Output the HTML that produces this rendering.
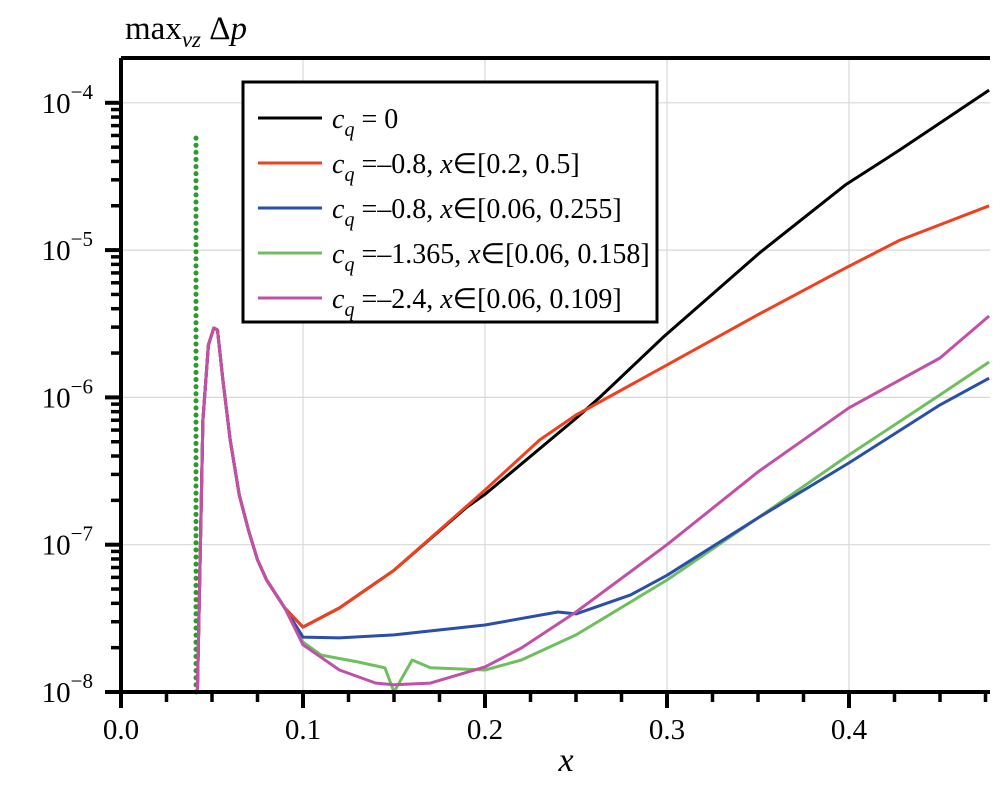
<!DOCTYPE html>
<html><head><meta charset="utf-8"><style>
body{margin:0;background:#fff;}
svg{display:block;font-family:"Liberation Serif",serif;}
</style></head><body>
<svg id="chart" width="1008" height="787" viewBox="0 0 1008 787" xmlns="http://www.w3.org/2000/svg">
<g id="grid"></g>
<g id="series"></g>
<g id="axes"></g>
<text x="125" y="39" font-size="33">max<tspan font-style="italic" font-size="23" dy="8">vz</tspan><tspan dy="-8"> Δ</tspan><tspan font-style="italic">p</tspan></text>
<text x="566" y="771" font-size="34" font-style="italic" text-anchor="middle">x</text>
<g id="legend">
<rect x="243" y="82" width="414" height="240" fill="#fff" stroke="#000" stroke-width="3"/>
</g>
</svg>
<script>
const X0=121,X1=303,Y8=692,DEC=147.3;
function sx(x){return X0+(x-0)*(X1-X0)/0.1;}
function sy(v){return Y8-(Math.log10(v)+8)*DEC;}
const xTicks=[0.0,0.1,0.2,0.3,0.4];
const xTickLabels=["0.0","0.1","0.2","0.3","0.4"];
const yTicks=[1e-8,1e-7,1e-6,1e-5,1e-4];
const yTickExps=["−8","−7","−6","−5","−4"];
const xCommon=[0.042,0.043,0.045,0.048,0.051,0.053,0.056,0.06,0.065,0.07,0.075,0.08,0.09];
const yCommon=[1e-8,4.2e-8,7.0e-7,2.27e-6,2.96e-6,2.87e-6,1.31e-6,5.14e-7,2.17e-7,1.26e-7,7.9e-8,5.76e-8,3.72e-8];
const xBlack=[0.1,0.12,0.15,0.19,0.2,0.25,0.263,0.298,0.351,0.398,0.428,0.477];
const yBlack=[2.76e-8,3.72e-8,6.7e-8,1.8e-7,2.2e-7,7.2e-7,1.0e-6,2.57e-6,9.6e-6,2.77e-5,4.8e-5,1.22e-4];
const xRed=[0.1,0.12,0.15,0.2,0.23,0.25,0.298,0.351,0.398,0.428,0.477];
const yRed=[2.76e-8,3.72e-8,6.7e-8,2.35e-7,5.14e-7,7.6e-7,1.61e-6,3.7e-6,7.55e-6,1.17e-5,2.0e-5];
const xBlue=[0.1,0.12,0.15,0.2,0.24,0.25,0.28,0.3,0.35,0.4,0.45,0.477];
const yBlue=[2.36e-8,2.33e-8,2.44e-8,2.85e-8,3.49e-8,3.39e-8,4.56e-8,6.2e-8,1.52e-7,3.59e-7,8.9e-7,1.35e-6];
const xGreen=[0.1,0.11,0.13,0.145,0.15,0.16,0.17,0.2,0.22,0.25,0.3,0.35,0.4,0.45,0.477];
const yGreen=[2.18e-8,1.78e-8,1.6e-8,1.46e-8,1e-8,1.65e-8,1.46e-8,1.41e-8,1.65e-8,2.44e-8,5.76e-8,1.52e-7,4.07e-7,1.04e-6,1.74e-6];
const xMag=[0.1,0.12,0.14,0.15,0.17,0.2,0.22,0.25,0.3,0.35,0.4,0.45,0.477];
const yMag=[2.09e-8,1.41e-8,1.15e-8,1.12e-8,1.15e-8,1.48e-8,1.99e-8,3.49e-8,1e-7,3.12e-7,8.5e-7,1.85e-6,3.57e-6];
const xDotted=[0.0412,0.0412];
const yDotted=[1e-8,6.2e-5];
const NS="http://www.w3.org/2000/svg";
function mk(tag,attrs,parent){const e=document.createElementNS(NS,tag);for(const k in attrs)e.setAttribute(k,attrs[k]);parent.appendChild(e);return e;}
const grid=document.getElementById('grid'),axes=document.getElementById('axes'),ser=document.getElementById('series');
const TOP=58,RIGHT=990;
xTicks.forEach((t,i)=>{if(i>0){const l=mk('line',{x1:sx(t),x2:sx(t),y1:TOP,y2:Y8,stroke:'#d8d8d8','stroke-width':1.2},grid);

}});
yTicks.forEach((t,i)=>{if(i>0){const l=mk('line',{x1:X0,x2:RIGHT,y1:sy(t),y2:sy(t),stroke:'#d8d8d8','stroke-width':1.2},grid);

}});
function path(xs,ys,color,w,dash){let d=xs.map((x,i)=>(i?'L':'M')+sx(x).toFixed(1)+','+sy(ys[i]).toFixed(1)).join('');
const p=mk('path',{d:d,fill:'none',stroke:color,'stroke-width':w,'stroke-linejoin':'round'},ser);if(dash){p.setAttribute('stroke-dasharray',dash);p.setAttribute('stroke-linecap','round');}return p;}
function full(xs,ys){return [xCommon.concat(xs),yCommon.concat(ys)];}
let p;
p=path(xDotted,yDotted,'#2e9a2e',5,'0.1,7');


let f;
f=full(xBlack,yBlack);p=path(f[0],f[1],'#000',3);


f=full(xGreen,yGreen);p=path(f[0],f[1],'#6fbf5f',3);


f=full(xBlue,yBlue);p=path(f[0],f[1],'#2a4fa8',3);


f=full(xRed,yRed);p=path(f[0],f[1],'#f04020',3);


f=full(xMag,yMag);p=path(f[0],f[1],'#c050a8',3);


let a=mk('path',{d:`M${X0},${TOP}H${RIGHT}M${X0},${TOP}V${Y8}M${X0-8},${Y8}H${RIGHT}`,stroke:'#000','stroke-width':4,fill:'none'},axes);


for(let k=0;k<=19;k++){const x=k*0.025;if(sx(x)>RIGHT+2)break;const major=k%4==0;
const t=mk('line',{x1:sx(x),x2:sx(x),y1:Y8,y2:Y8+(major?16:10),stroke:'#000','stroke-width':major?4:3.5},axes);

}
xTicks.forEach((t,i)=>{const e=mk('text',{x:sx(t),y:Y8+47,'font-size':29,'text-anchor':'middle'},axes);e.textContent=xTickLabels[i];

});
for(let d=-8;d<=-4;d++){for(let m=1;m<=9;m++){if(d==-4&&m>1)break;const v=m*Math.pow(10,d);const y=sy(v);
const t=mk('line',{x1:X0-(m==1?16:10),x2:X0,y1:y,y2:y,stroke:'#000','stroke-width':m==1?4:3.5},axes);

}}
yTicks.forEach((t,i)=>{const e=mk('text',{x:X0-28,y:sy(t)+10,'font-size':29,'text-anchor':'end'},axes);
e.innerHTML='10<tspan font-size="21" dy="-14">'+yTickExps[i]+'</tspan>';

});
const lg=document.getElementById('legend');
const legColors=['#000','#f04020','#2a4fa8','#6fbf5f','#c050a8'];
const legText=['= 0','=–0.8, <tspan font-style="italic">x</tspan>∈[0.2, 0.5]','=–0.8, <tspan font-style="italic">x</tspan>∈[0.06, 0.255]','=–1.365, <tspan font-style="italic">x</tspan>∈[0.06, 0.158]','=–2.4, <tspan font-style="italic">x</tspan>∈[0.06, 0.109]'];
legColors.forEach((c,i)=>{const y=118+i*45;
const l=mk('line',{x1:258,x2:322,y1:y,y2:y,stroke:c,'stroke-width':3},lg);


const t=mk('text',{x:332,y:y+10,'font-size':28},lg);
t.innerHTML='<tspan font-style="italic">c</tspan><tspan font-style="italic" font-size="20" dy="8">q</tspan><tspan dy="-8"> '+legText[i]+'</tspan>';

});
</script>
</body></html>
